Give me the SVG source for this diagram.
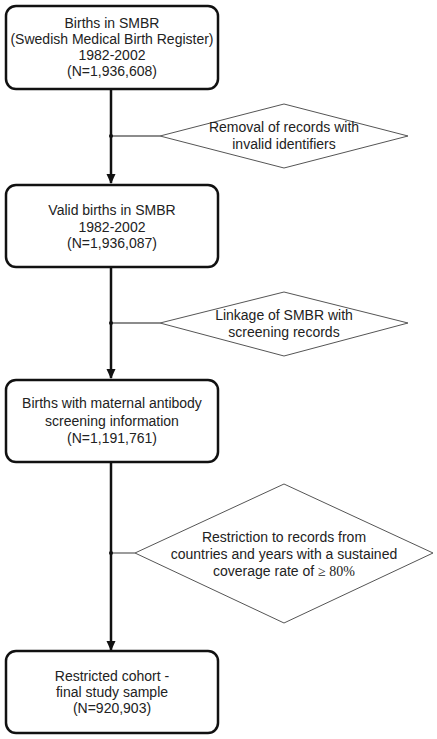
<svg xmlns="http://www.w3.org/2000/svg" width="437" height="739" viewBox="0 0 437 739">
<style>
.box{fill:#fff;stroke:#111;stroke-width:2.5}
.dia{fill:#fff;stroke:#555;stroke-width:1}
.main{stroke:#111;stroke-width:2.5;fill:none}
.side{stroke:#666;stroke-width:1.3;fill:none}
text{font-family:"Liberation Sans",Arial,sans-serif;font-size:14px;fill:#222;text-anchor:middle}
</style>
<defs>
<marker id="ah" markerWidth="10" markerHeight="10" refX="9" refY="5" orient="auto" markerUnits="userSpaceOnUse">
<path d="M0,0.5 L10,5 L0,9.5 Z" fill="#111"/>
</marker>
</defs>
<g id="connectors">
<line class="main" x1="111" y1="89" x2="111" y2="183" marker-end="url(#ah)"/>
<line class="main" x1="111" y1="267" x2="111" y2="378" marker-end="url(#ah)"/>
<line class="main" x1="111" y1="462" x2="111" y2="650" marker-end="url(#ah)"/>
<line class="side" x1="111" y1="136" x2="160" y2="136"/>
<line class="side" x1="111" y1="323" x2="160" y2="323"/>
<line class="side" x1="111" y1="553" x2="135" y2="553"/>
<circle cx="111" cy="136" r="2" fill="#111"/>
<circle cx="111" cy="323" r="2" fill="#111"/>
<circle cx="111" cy="553" r="2" fill="#111"/>
</g>
<g id="n1">
<rect class="box" x="6" y="6" width="212" height="83" rx="10"/>
<text x="112" y="28">Births in SMBR</text>
<text x="112" y="44">(Swedish Medical Birth Register)</text>
<text x="112" y="60">1982-2002</text>
<text x="112" y="76">(N=1,936,608)</text>
</g>
<g id="d1">
<polygon class="dia" points="284,104 408,136 284,168 160,136"/>
<text x="284" y="132">Removal of records with</text>
<text x="284" y="149">invalid identifiers</text>
</g>
<g id="n2">
<rect class="box" x="6" y="185" width="212" height="82" rx="10"/>
<text x="112" y="215">Valid births in SMBR</text>
<text x="112" y="232">1982-2002</text>
<text x="112" y="248">(N=1,936,087)</text>
</g>
<g id="d2">
<polygon class="dia" points="284,292 408,323 284,356 160,323"/>
<text x="284" y="320">Linkage of SMBR with</text>
<text x="284" y="337">screening records</text>
</g>
<g id="n3">
<rect class="box" x="6" y="380" width="212" height="82" rx="10"/>
<text x="112" y="408">Births with maternal antibody</text>
<text x="112" y="426">screening information</text>
<text x="112" y="443">(N=1,191,761)</text>
</g>
<g id="d3">
<polygon class="dia" points="284,484 433,553 284,623 135,553"/>
<text x="284" y="542">Restriction to records from</text>
<text x="284" y="559">countries and years with a sustained</text>
<text x="284" y="576">coverage rate of <tspan font-family="'Liberation Serif',serif">≥ 80%</tspan></text>
</g>
<g id="n4">
<rect class="box" x="6" y="651" width="212" height="82" rx="10"/>
<text x="112" y="681">Restricted cohort -</text>
<text x="112" y="697">final study sample</text>
<text x="112" y="713">(N=920,903)</text>
</g>
</svg>
